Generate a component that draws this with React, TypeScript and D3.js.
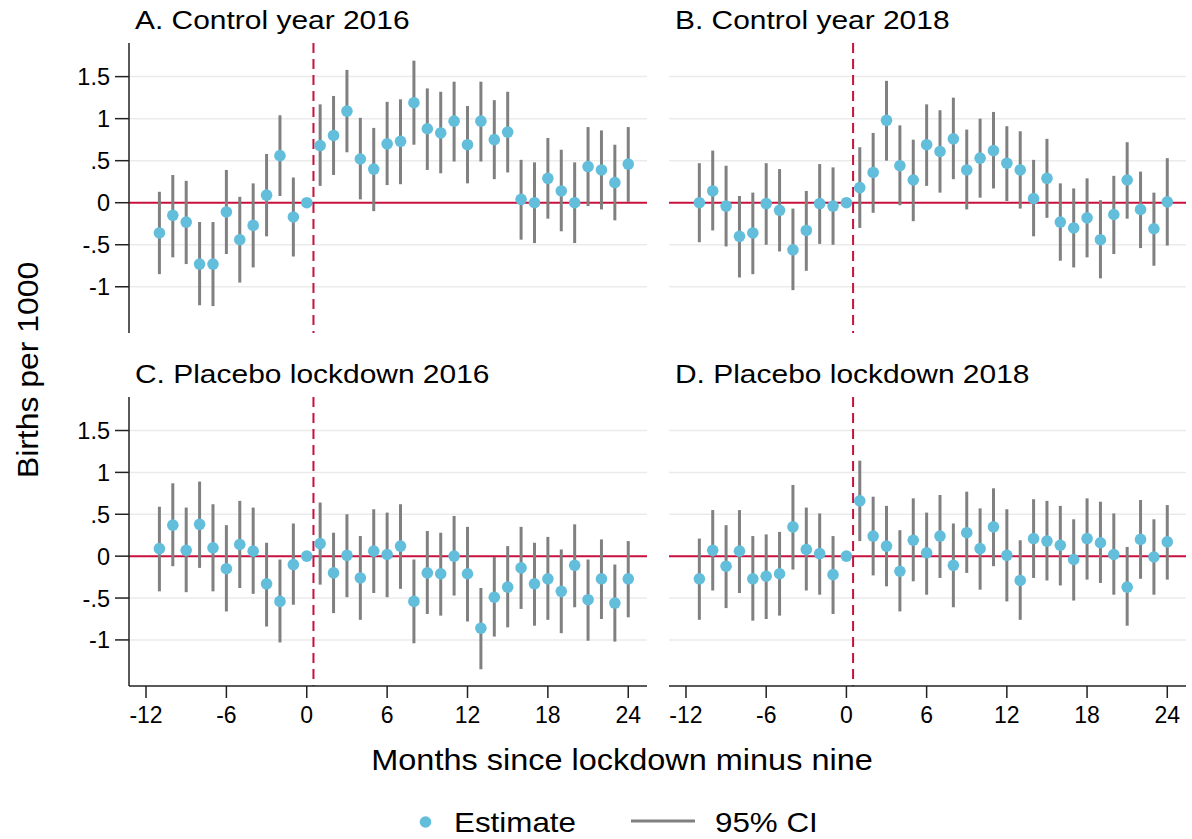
import React from 'react';
import * as d3 from 'd3';

// months since lockdown minus nine
const months = d3.range(-11, 25);

// A. Control year 2016
const estA = [-0.36, -0.15, -0.23, -0.73, -0.73, -0.11, -0.44, -0.27, 0.09, 0.56, -0.17, 0, 0.68, 0.8, 1.09, 0.52, 0.4, 0.7, 0.73, 1.19, 0.88, 0.83, 0.97, 0.69, 0.97, 0.75, 0.84, 0.04, 0, 0.29, 0.14, 0, 0.43, 0.39, 0.24, 0.46];
const hiA = [0.13, 0.33, 0.26, -0.23, -0.23, 0.39, 0.07, 0.23, 0.58, 1.04, 0.3, 0, 1.17, 1.27, 1.58, 1.01, 0.89, 1.2, 1.23, 1.69, 1.36, 1.32, 1.44, 1.15, 1.44, 1.22, 1.32, 0.51, 0.48, 0.77, 0.63, 0.48, 0.9, 0.86, 0.69, 0.9];
const loA = [-0.85, -0.65, -0.73, -1.22, -1.23, -0.61, -0.95, -0.77, -0.4, 0.08, -0.64, 0, 0.2, 0.33, 0.6, 0.04, -0.1, 0.21, 0.22, 0.69, 0.39, 0.35, 0.49, 0.23, 0.49, 0.28, 0.36, -0.44, -0.48, -0.19, -0.34, -0.48, -0.04, -0.08, -0.21, 0.01];

// B. Control year 2018
const estB = [0, 0.14, -0.04, -0.4, -0.36, -0.01, -0.09, -0.56, -0.33, -0.01, -0.04, 0, 0.18, 0.36, 0.98, 0.44, 0.27, 0.69, 0.61, 0.76, 0.39, 0.53, 0.62, 0.47, 0.39, 0.05, 0.29, -0.23, -0.3, -0.18, -0.44, -0.14, 0.27, -0.08, -0.31, 0.01];
const hiB = [0.47, 0.62, 0.44, 0.08, 0.12, 0.47, 0.4, -0.07, 0.14, 0.46, 0.42, 0, 0.66, 0.83, 1.45, 0.92, 0.75, 1.17, 1.1, 1.25, 0.87, 1, 1.08, 0.91, 0.85, 0.51, 0.76, 0.23, 0.17, 0.29, 0.03, 0.32, 0.72, 0.37, 0.12, 0.53];
const loB = [-0.47, -0.33, -0.52, -0.89, -0.85, -0.5, -0.58, -1.04, -0.81, -0.49, -0.5, 0, -0.3, -0.12, 0.5, -0.03, -0.22, 0.2, 0.12, 0.28, -0.08, 0.06, 0.17, 0.02, -0.07, -0.4, -0.18, -0.69, -0.77, -0.65, -0.9, -0.61, -0.19, -0.54, -0.75, -0.51];

// C. Placebo lockdown 2016
const estC = [0.09, 0.37, 0.07, 0.38, 0.1, -0.15, 0.14, 0.06, -0.33, -0.54, -0.1, 0, 0.15, -0.2, 0.01, -0.26, 0.06, 0.02, 0.12, -0.54, -0.2, -0.21, 0, -0.21, -0.86, -0.49, -0.37, -0.14, -0.33, -0.27, -0.42, -0.11, -0.52, -0.27, -0.56, -0.27];
const hiC = [0.59, 0.87, 0.58, 0.89, 0.62, 0.37, 0.66, 0.58, 0.16, -0.04, 0.39, 0, 0.64, 0.28, 0.5, 0.24, 0.56, 0.52, 0.62, -0.04, 0.3, 0.28, 0.48, 0.35, -0.38, -0.01, 0.12, 0.35, 0.16, 0.23, 0.08, 0.38, -0.04, 0.2, -0.1, 0.18];
const loC = [-0.42, -0.12, -0.43, -0.14, -0.42, -0.66, -0.38, -0.45, -0.84, -1.03, -0.58, 0, -0.34, -0.68, -0.49, -0.76, -0.44, -0.49, -0.39, -1.04, -0.69, -0.71, -0.47, -0.78, -1.35, -0.96, -0.85, -0.63, -0.83, -0.76, -0.92, -0.61, -1.01, -0.75, -1.02, -0.73];

// D. Placebo lockdown 2018
const estD = [-0.27, 0.07, -0.12, 0.06, -0.27, -0.24, -0.21, 0.35, 0.08, 0.03, -0.22, 0, 0.66, 0.24, 0.12, -0.18, 0.19, 0.04, 0.24, -0.11, 0.28, 0.09, 0.35, 0.01, -0.29, 0.21, 0.18, 0.13, -0.04, 0.21, 0.16, 0.02, -0.37, 0.2, -0.01, 0.17];
const hiD = [0.21, 0.55, 0.37, 0.55, 0.24, 0.26, 0.29, 0.85, 0.58, 0.51, 0.24, 0, 1.14, 0.71, 0.6, 0.31, 0.69, 0.52, 0.73, 0.39, 0.77, 0.57, 0.81, 0.56, 0.19, 0.68, 0.66, 0.6, 0.44, 0.69, 0.65, 0.51, 0.11, 0.67, 0.44, 0.61];
const loD = [-0.76, -0.41, -0.62, -0.44, -0.77, -0.75, -0.71, -0.16, -0.41, -0.46, -0.69, 0, 0.18, -0.23, -0.36, -0.66, -0.3, -0.46, -0.26, -0.61, -0.2, -0.4, -0.12, -0.54, -0.76, -0.26, -0.29, -0.35, -0.53, -0.28, -0.32, -0.46, -0.83, -0.27, -0.46, -0.28];

const yTicks = [-1, -0.5, 0, 0.5, 1, 1.5];
const yTickLabels = ['-1', '-.5', '0', '.5', '1', '1.5'];
const xTicks = [-12, -6, 0, 6, 12, 18, 24];

const panels = [
    {title: 'A. Control year 2016', est: estA, lo: loA, hi: hiA, col: 0, row: 0},
    {title: 'B. Control year 2018', est: estB, lo: loB, hi: hiB, col: 1, row: 0},
    {title: 'C. Placebo lockdown 2016', est: estC, lo: loC, hi: hiC, col: 0, row: 1},
    {title: 'D. Placebo lockdown 2018', est: estD, lo: loD, hi: hiD, col: 1, row: 1},
];

const FONT = '"Liberation Sans", Arial, sans-serif';
const RED = '#c8103c';
const DOT = '#62bedb';
const CI = '#808080';

// plot areas
const colX = [[129, 647], [669, 1186]];
const rowY = [[43, 333], [397, 686]];

// the original's lettering is a little wider than Liberation Sans
function Label({x, y, size, sx = 1.12, rotate = 0, anchor = 'start', children}) {
    return (
        <text transform={`translate(${x},${y}) rotate(${rotate}) scale(${sx},1)`} textAnchor={anchor}
            fontSize={size} fontFamily={FONT} fill="#000">
            {children}
        </text>
    );
}

function Panel({p}) {
    let [x0, x1] = colX[p.col];
    let [y0, y1] = rowY[p.row];

    let scaleX = d3.scaleLinear().domain([-13.27, 25.4]).range([x0, x1]);
    let scaleY = d3.scaleLinear().domain([-1.55, 1.9]).range([y1, y0]);

    return (
        <g>
            <Label x={x0 + 6} y={y0 - 14.5} size={26.5} sx={1.13}>{p.title}</Label>
            {yTicks.filter(t => t !== 0).map(t => (
                <line key={t} x1={x0} x2={x1} y1={scaleY(t)} y2={scaleY(t)} stroke="#ebebeb" strokeWidth={1.5} />
            ))}
            <line x1={x0} x2={x1} y1={scaleY(0)} y2={scaleY(0)} stroke={RED} strokeWidth={2} />
            <line x1={scaleX(0.5)} x2={scaleX(0.5)} y1={y0} y2={y1} stroke={RED} strokeWidth={2} strokeDasharray="10,6" />
            {months.map((m, i) => (
                <line key={'ci' + m} x1={scaleX(m)} x2={scaleX(m)} y1={scaleY(p.hi[i])} y2={scaleY(p.lo[i])}
                    stroke={CI} strokeWidth={3} />
            ))}
            {months.map((m, i) => (
                <circle key={'pt' + m} cx={scaleX(m)} cy={scaleY(p.est[i])} r={5.8} fill={DOT} />
            ))}
            {p.col === 0 && (
                <g>
                    <line x1={x0} x2={x0} y1={y0} y2={y1} stroke="#222" strokeWidth={1.5} />
                    {yTicks.map((t, i) => (
                        <g key={t}>
                            <line x1={x0 - 14} x2={x0} y1={scaleY(t)} y2={scaleY(t)} stroke="#222" strokeWidth={1.5} />
                            <text x={x0 - 19} y={scaleY(t)} dy="0.36em" textAnchor="end" fontSize={23.5} fontFamily={FONT}>
                                {yTickLabels[i]}
                            </text>
                        </g>
                    ))}
                </g>
            )}
            {p.row === 1 && (
                <g>
                    <line x1={x0} x2={x1} y1={y1} y2={y1} stroke="#222" strokeWidth={1.5} />
                    {xTicks.map(t => (
                        <g key={t}>
                            <line x1={scaleX(t)} x2={scaleX(t)} y1={y1} y2={y1 + 12} stroke="#222" strokeWidth={1.5} />
                            <text x={scaleX(t)} y={y1 + 29} dy="0.36em" textAnchor="middle" fontSize={23} fontFamily={FONT}>
                                {t}
                            </text>
                        </g>
                    ))}
                </g>
            )}
        </g>
    );
}

export default function App() {
    return (
        <svg width={1192} height={839} style={{position: 'absolute', left: 0, top: 0, background: '#fff'}}>
            <rect width={1192} height={839} fill="#fff" />
            {panels.map(p => <Panel key={p.title} p={p} />)}
            <Label x={38} y={370} size={29} sx={1.1} rotate={-90} anchor="middle">Births per 1000</Label>
            <Label x={622} y={770} size={29} anchor="middle">Months since lockdown minus nine</Label>
            <circle cx={425.5} cy={822} r={5.8} fill={DOT} />
            <Label x={454} y={832} size={28}>Estimate</Label>
            <line x1={631} x2={695} y1={821} y2={821} stroke={CI} strokeWidth={3} />
            <Label x={715} y={832} size={28}>95% CI</Label>
        </svg>
    );
}
